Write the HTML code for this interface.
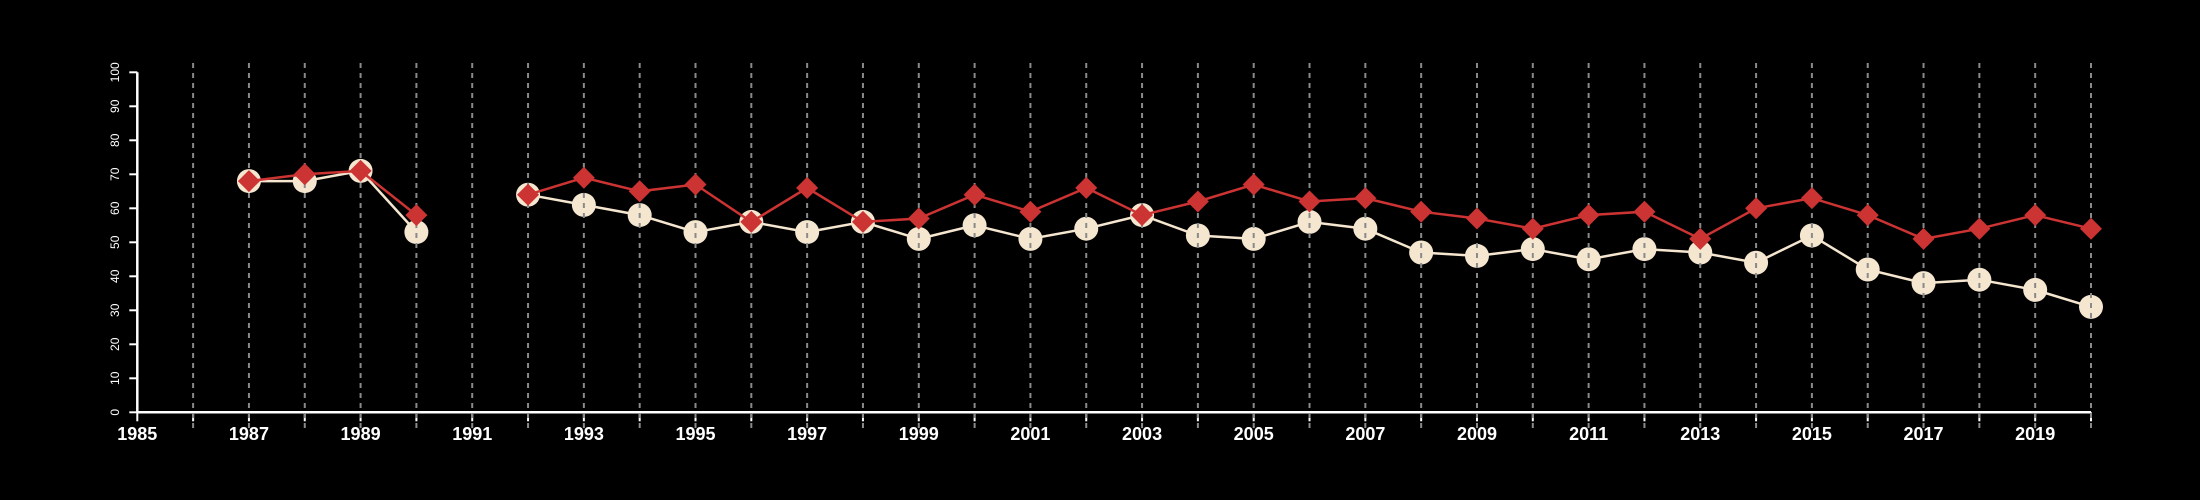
<!DOCTYPE html>
<html><head><meta charset="utf-8"><style>
html,body{margin:0;padding:0;background:#000;}
svg{display:block;font-family:"Liberation Sans",sans-serif;}
</style></head><body>
<svg id="chart" width="2200" height="500" viewBox="0 0 2200 500" xmlns="http://www.w3.org/2000/svg">
<rect width="2200" height="500" fill="#000"/>
<g id="axes"></g>
<g id="wseries"></g>
<g id="grid"></g>
<g id="series"></g>
</svg>
<script>
const years = [1987,1988,1989,1990,1991,1992,1993,1994,1995,1996,1997,1998,1999,2000,2001,2002,2003,2004,2005,2006,2007,2008,2009,2010,2011,2012,2013,2014,2015,2016,2017,2018,2019,2020];
const whiteSeries = [68,68,71,53,null,64,61,58,53,56,53,56,51,55,51,54,58,52,51,56,54,47,46,48,45,48,47,44,52,42,38,39,36,31];
const redSeries = [68,70,71,58,null,64,69,65,67,56,66,56,57,64,59,66,58,62,67,62,63,59,57,54,58,59,51,60,63,58,51,54,58,54];
const yTicks = [0,10,20,30,40,50,60,70,80,90,100];
const xLabels = [1985,1987,1989,1991,1993,1995,1997,1999,2001,2003,2005,2007,2009,2011,2013,2015,2017,2019];

const NS="http://www.w3.org/2000/svg";
const x0=137.3, x1=2091, yr0=1985, yr1=2020;
const yTop=72.3, yBot=412.3;
const xs=v=>x0+(v-yr0)*(x1-x0)/(yr1-yr0);
const ys=v=>yBot-(v/100)*(yBot-yTop);
function mk(tag,attrs,parent){const e=document.createElementNS(NS,tag);for(const k in attrs)e.setAttribute(k,attrs[k]);parent.appendChild(e);return e;}
const grid=document.getElementById('grid'),axes=document.getElementById('axes'),series=document.getElementById('series'),wseries=document.getElementById('wseries');

for(let y=yr0+1;y<=yr1;y++){
  const l=mk('line',{x1:xs(y),x2:xs(y),y1:63,y2:428,stroke:'#8a8a8a','stroke-width':2,'stroke-dasharray':'5,5'},grid);
  
  
}
const xa=mk('line',{x1:x0,x2:x1,y1:yBot,y2:yBot,stroke:'#fff','stroke-width':2.5},axes);


const ya=mk('line',{x1:x0,x2:x0,y1:yTop,y2:yBot,stroke:'#fff','stroke-width':2.5},axes);


for(let y=yr0;y<=yr1;y++){
  const t=mk('line',{x1:xs(y),x2:xs(y),y1:yBot,y2:yBot+9,stroke:'#fff','stroke-width':2},axes);
  
  
}
xLabels.forEach(v=>{
  const t=mk('text',{x:xs(v),y:440,fill:'#fff','font-size':18,'font-weight':'bold','text-anchor':'middle'},axes);
  t.textContent=v;
  
  
});
yTicks.forEach(v=>{
  const t=mk('line',{x1:x0-8,x2:x0,y1:ys(v),y2:ys(v),stroke:'#fff','stroke-width':2},axes);
  
  
  const tx=mk('text',{x:0,y:0,fill:'#fff','font-size':12,'text-anchor':'middle',transform:`translate(119,${ys(v)}) rotate(-90)`},axes);
  tx.textContent=v;
  
  
});
function segs(vals){const out=[];let cur=[];vals.forEach((v,i)=>{if(v==null){if(cur.length)out.push(cur);cur=[];}else cur.push([xs(years[i]),ys(v)]);});if(cur.length)out.push(cur);return out;}
segs(whiteSeries).forEach(s=>{
  const p=mk('polyline',{points:s.map(q=>q.join(',')).join(' '),fill:'none',stroke:'#f5e6d0','stroke-width':2.5},wseries);
  
  
});
whiteSeries.forEach((v,i)=>{if(v==null)return;
  const c=mk('circle',{cx:xs(years[i]),cy:ys(v),r:12,fill:'#f5e6d0'},wseries);
  
  
});
segs(redSeries).forEach(s=>{
  const p=mk('polyline',{points:s.map(q=>q.join(',')).join(' '),fill:'none',stroke:'#cc3333','stroke-width':2.5},series);
  
  
});
redSeries.forEach((v,i)=>{if(v==null)return;
  const x=xs(years[i]),y=ys(v),d=11;
  const p=mk('polygon',{points:`${x},${y-d} ${x+d},${y} ${x},${y+d} ${x-d},${y}`,fill:'#cc3333'},series);
  
  
});
</script>
</body></html>
